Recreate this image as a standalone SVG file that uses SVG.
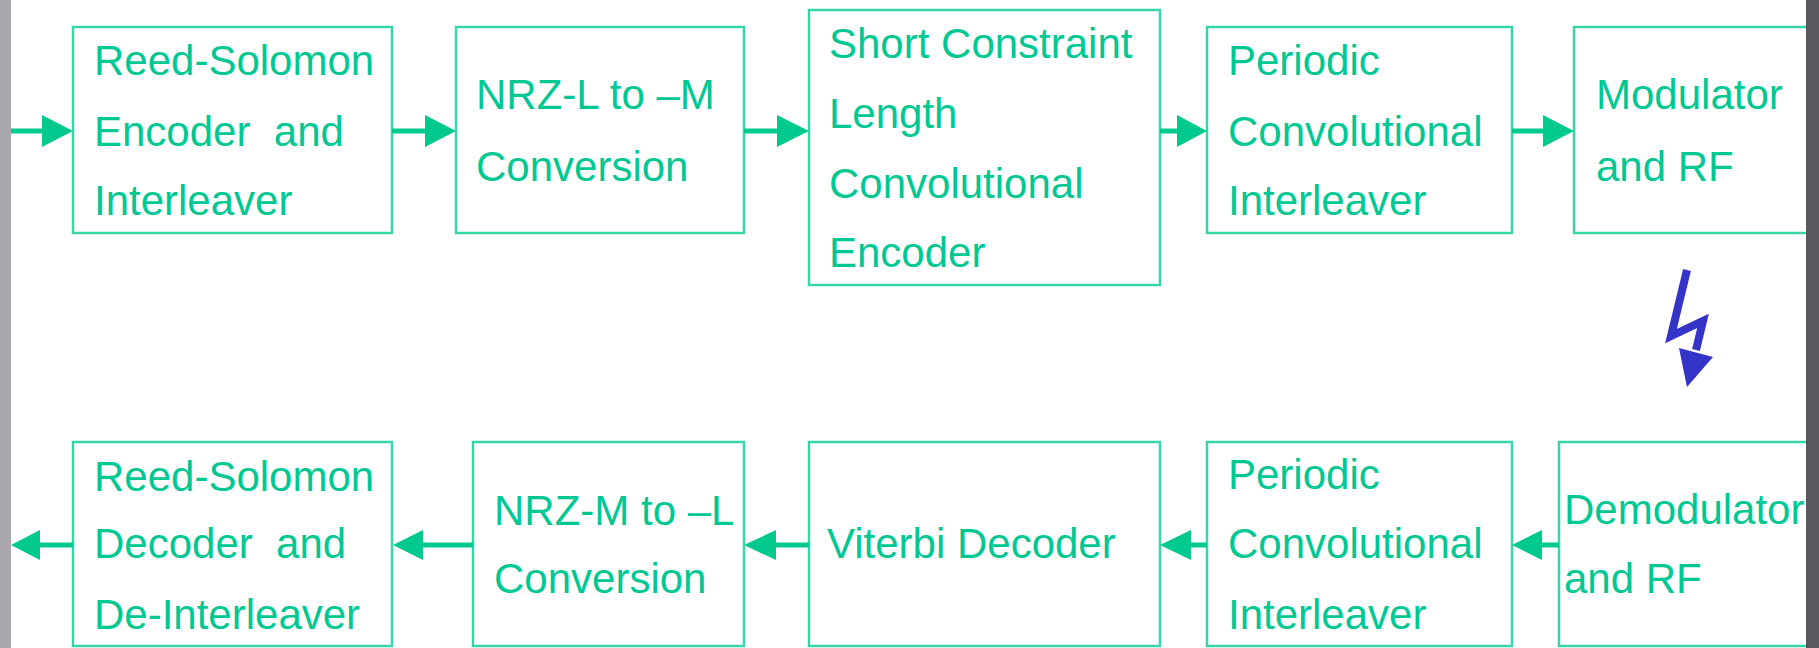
<svg xmlns="http://www.w3.org/2000/svg" width="1819" height="648" viewBox="0 0 1819 648">
<style>
  .box { fill: #ffffff; stroke: #38d6a7; stroke-width: 2.5; }
  .lbl { font-family: "Liberation Sans", Arial, sans-serif; font-size: 42px; fill: #00c893; }
  .conn { stroke: #00c98d; stroke-width: 5; fill: none; }
  .head { fill: #00c98d; }
</style>
<rect x="0" y="0" width="1819" height="648" fill="#ffffff"/>

<g id="tx-rs-encoder">
  <rect class="box" x="73" y="27" width="319" height="206"/>
  <text class="lbl" x="94" y="75">Reed-Solomon</text>
  <text class="lbl" x="94" y="146" xml:space="preserve">Encoder  and</text>
  <text class="lbl" x="94" y="215">Interleaver</text>
</g>
<g id="tx-nrz">
  <rect class="box" x="456" y="27" width="288" height="206"/>
  <text class="lbl" x="476" y="109">NRZ-L to –M</text>
  <text class="lbl" x="476" y="181">Conversion</text>
</g>
<g id="tx-conv-encoder">
  <rect class="box" x="809" y="10" width="351" height="275"/>
  <text class="lbl" x="829" y="58">Short Constraint</text>
  <text class="lbl" x="829" y="128">Length</text>
  <text class="lbl" x="829" y="198">Convolutional</text>
  <text class="lbl" x="829" y="267">Encoder</text>
</g>
<g id="tx-interleaver">
  <rect class="box" x="1207" y="27" width="305" height="206"/>
  <text class="lbl" x="1228" y="75">Periodic</text>
  <text class="lbl" x="1228" y="146">Convolutional</text>
  <text class="lbl" x="1228" y="215">Interleaver</text>
</g>
<g id="tx-modulator">
  <rect class="box" x="1574" y="27" width="300" height="206"/>
  <text class="lbl" x="1596" y="109">Modulator</text>
  <text class="lbl" x="1596" y="181">and RF</text>
</g>

<g id="rx-rs-decoder">
  <rect class="box" x="73" y="442" width="319" height="204"/>
  <text class="lbl" x="94" y="491">Reed-Solomon</text>
  <text class="lbl" x="94" y="558" xml:space="preserve">Decoder  and</text>
  <text class="lbl" x="94" y="629">De-Interleaver</text>
</g>
<g id="rx-nrz">
  <rect class="box" x="473" y="442" width="271" height="204"/>
  <text class="lbl" x="494" y="525">NRZ-M to –L</text>
  <text class="lbl" x="494" y="593">Conversion</text>
</g>
<g id="rx-viterbi">
  <rect class="box" x="809" y="442" width="351" height="204"/>
  <text class="lbl" x="827" y="558">Viterbi Decoder</text>
</g>
<g id="rx-deinterleaver">
  <rect class="box" x="1207" y="442" width="305" height="204"/>
  <text class="lbl" x="1228" y="489">Periodic</text>
  <text class="lbl" x="1228" y="558">Convolutional</text>
  <text class="lbl" x="1228" y="629">Interleaver</text>
</g>
<g id="rx-demodulator">
  <rect class="box" x="1559" y="442" width="300" height="204"/>
  <text class="lbl" x="1564" y="524">Demodulator</text>
  <text class="lbl" x="1564" y="593">and RF</text>
</g>

<g id="connectors">
  <!-- top row, left to right -->
  <line class="conn" x1="10" y1="131" x2="46" y2="131"/>
  <polygon class="head" points="73,131 42,115 42,147"/>
  <line class="conn" x1="392" y1="131" x2="428" y2="131"/>
  <polygon class="head" points="456,131 425,115 425,147"/>
  <line class="conn" x1="744" y1="131" x2="780" y2="131"/>
  <polygon class="head" points="809,131 777,115 777,147"/>
  <line class="conn" x1="1160" y1="131" x2="1180" y2="131"/>
  <polygon class="head" points="1207,131 1177,115 1177,147"/>
  <line class="conn" x1="1512" y1="131" x2="1546" y2="131"/>
  <polygon class="head" points="1574,131 1543,115 1543,147"/>
  <!-- bottom row, right to left -->
  <line class="conn" x1="1559" y1="545" x2="1538" y2="545"/>
  <polygon class="head" points="1512,545 1542,530 1542,560"/>
  <line class="conn" x1="1207" y1="545" x2="1188" y2="545"/>
  <polygon class="head" points="1160,545 1191,530 1191,560"/>
  <line class="conn" x1="809" y1="545" x2="772" y2="545"/>
  <polygon class="head" points="744,545 776,530 776,560"/>
  <line class="conn" x1="473" y1="545" x2="420" y2="545"/>
  <polygon class="head" points="393,545 423,530 423,560"/>
  <line class="conn" x1="73" y1="545" x2="37" y2="545"/>
  <polygon class="head" points="11,545 40,530 40,560"/>
  <!-- radio link bolt -->
  <polyline points="1687,270 1671,336 1703,321 1696,350" fill="none" stroke="#3434c8" stroke-width="8" stroke-linejoin="miter"/>
  <polygon points="1679,348 1713,357 1687,387" fill="#3434c8"/>
</g>

<rect x="0" y="0" width="11" height="648" fill="#aaa8ad"/>
<rect x="1806" y="0" width="13" height="648" fill="#59585d"/>
</svg>
